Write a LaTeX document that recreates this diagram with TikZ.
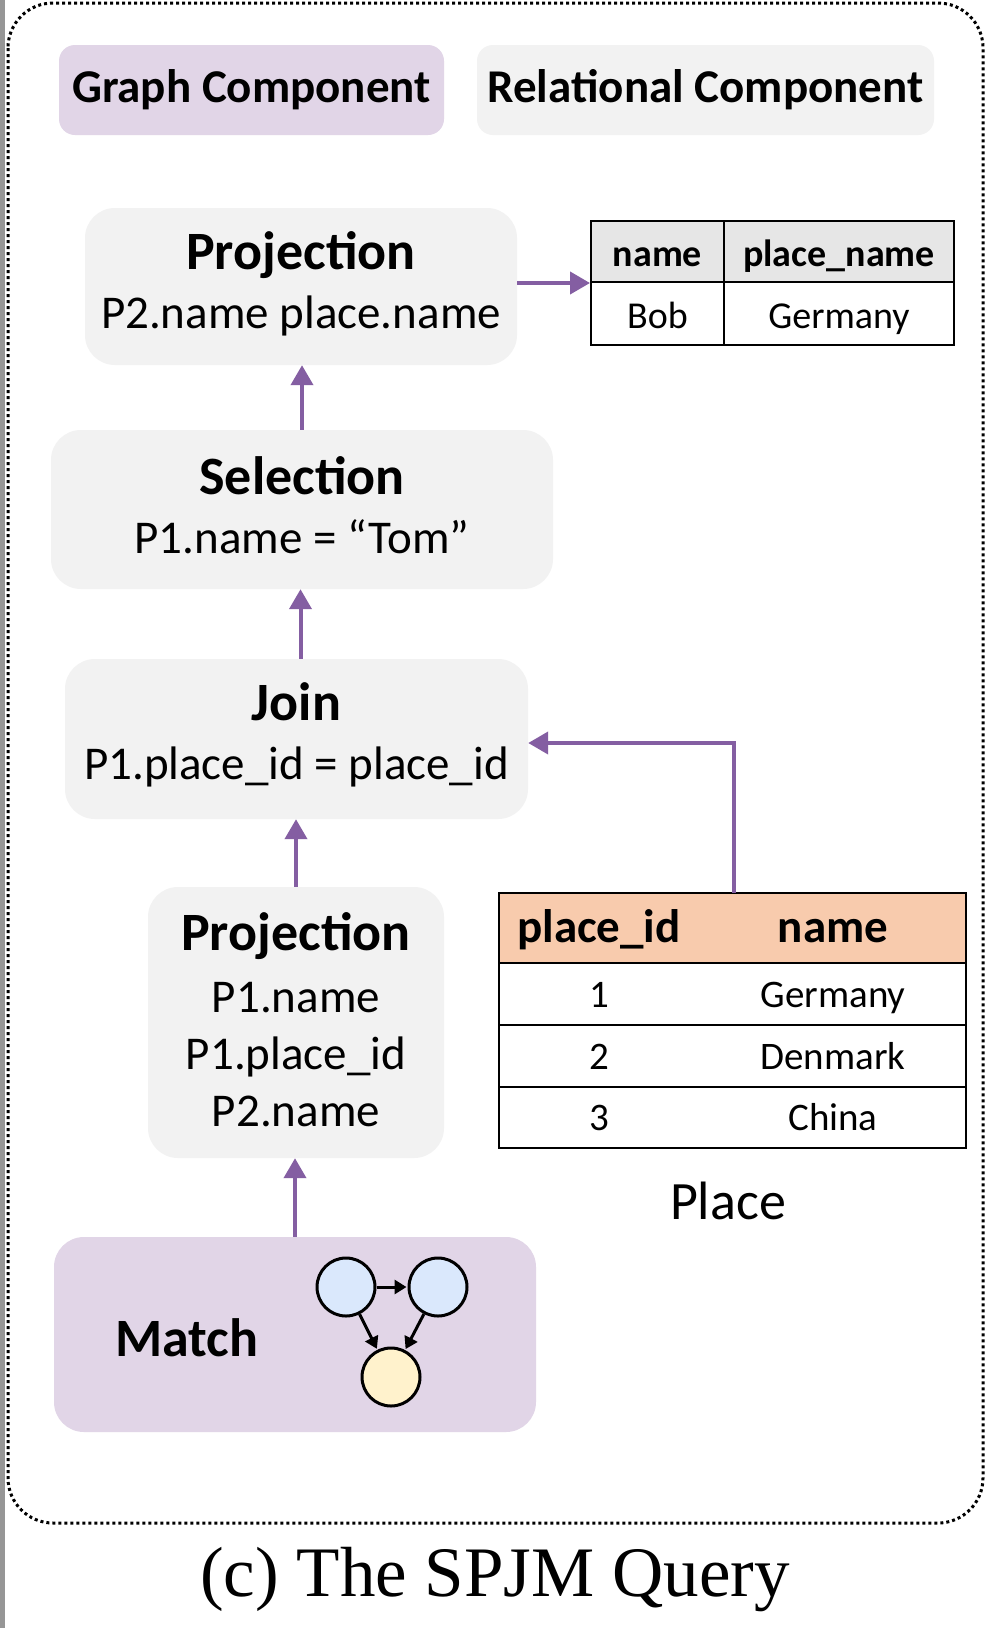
\documentclass[tikz,border=0pt]{standalone}
\usepackage{fontspec}
\setmainfont{Carlito}
\newfontfamily\capfont{Liberation Serif}
\usetikzlibrary{arrows.meta}
\definecolor{gpurple}{RGB}{225,213,231}
\definecolor{rgray}{RGB}{242,242,242}
\definecolor{arr}{RGB}{132,94,162}
\definecolor{peach}{RGB}{248,203,173}
\definecolor{hgray}{RGB}{230,230,230}
\definecolor{nblue}{RGB}{218,232,252}
\definecolor{nyellow}{RGB}{255,242,204}
\definecolor{stripgray}{RGB}{150,150,150}
\begin{document}
\begin{tikzpicture}[x=1pt,y=-1pt,
  compbox/.style={rounded corners=16pt, inner sep=0pt, minimum height=90pt, font=\fontsize{47}{56}\selectfont\bfseries},
  opbox/.style={fill=rgray, rounded corners=30pt, inner sep=0pt},
  optext/.style={inner sep=0pt, align=center, font=\fontsize{47}{59}\selectfont},
  ttl/.style={font=\fontsize{54}{60}\selectfont\bfseries},
  flow/.style={draw=arr, line width=4pt, -{Triangle[width=22pt,length=20pt]}},
  cell/.style={draw=black, line width=2pt, inner sep=0pt, text height=34pt, text depth=4pt},
  ptext/.style={inner sep=0pt, text height=30pt, text depth=4pt, font=\fontsize{39}{46}\selectfont},
  phtext/.style={inner sep=0pt, text height=34pt, text depth=6pt, font=\fontsize{47}{54}\selectfont\bfseries},
  gnode/.style={circle, draw=black, line width=3pt, minimum size=58pt, inner sep=0pt},
  garr/.style={draw=black, line width=3pt, -{Triangle[width=14pt,length=12pt]}, shorten >=1pt}
]
\useasboundingbox (0,0) rectangle (986,1628);
\fill[white] (0,0) rectangle (986,1628);
\fill[stripgray] (0,0) rectangle (5,1628);
\draw[line width=3pt, dash pattern=on 3pt off 3pt, rounded corners=45pt] (8,3) rectangle (983,1523);

% component legend
\node[compbox, fill=gpurple, minimum width=385pt] (gc) at (251.5,90) {Graph Component};
\node[compbox, fill=rgray, minimum width=457pt] (rc) at (705.5,90) {Relational Component};

% operator boxes
\node[opbox, minimum width=432pt, minimum height=157pt] (projtop) at (301,286.5) {};
\node[optext] (projtopt) at ([yshift=3pt]projtop.center)
  {{\fontsize{54}{60}\selectfont\bfseries Projection}\\P2.name place.name};
\node[opbox, minimum width=502pt, minimum height=159pt] (sel) at (302,509.5) {};
\node[optext] (selt) at ([yshift=4pt]sel.center)
  {{\fontsize{54}{60}\selectfont\bfseries Selection}\\P1.name = “Tom”};
\node[opbox, minimum width=463pt, minimum height=160pt] (join) at (296.5,739) {};
\node[optext] (joint) at ([yshift=4pt]join.center)
  {{\fontsize{54}{60}\selectfont\bfseries Join}\\P1.place\_id = place\_id};
\node[opbox, minimum width=296pt, minimum height=271pt] (proj2) at (296,1022.5) {};
\node[optext, font=\fontsize{47}{57}\selectfont] (proj2t) at ([yshift=3pt]proj2.center)
  {{\fontsize{54}{60}\selectfont\bfseries Projection}\\[5pt]P1.name\\P1.place\_id\\P2.name};
\node[fill=gpurple, rounded corners=30pt, minimum width=482pt, minimum height=195pt] (match) at (295,1334.5) {};
\node[ttl] (matchlabel) at (187,1338) {Match};

% pattern graph
\node[gnode, fill=nblue] (c1) at (346,1287) {};
\node[gnode, fill=nblue] (c2) at (438,1287) {};
\node[gnode, fill=nyellow] (c3) at (391,1377) {};
\draw[garr] (c1) -- (c2);
\draw[garr] (c1) -- (c3);
\draw[garr] (c2) -- (c3);

% result table
\node[cell, fill=hgray, minimum width=133pt, minimum height=61pt, font=\fontsize{38}{44}\selectfont\bfseries] (r11) at (657.5,251.5) {name};
\node[cell, fill=hgray, minimum width=230pt, minimum height=61pt, font=\fontsize{38}{44}\selectfont\bfseries] (r12) at (839,251.5) {place\_name};
\node[cell, fill=white, minimum width=133pt, minimum height=63pt, font=\fontsize{38}{44}\selectfont] (r21) at (657.5,313.5) {Bob};
\node[cell, fill=white, minimum width=230pt, minimum height=63pt, font=\fontsize{38}{44}\selectfont] (r22) at (839,313.5) {Germany};

% Place table
\node[cell, fill=peach, minimum width=467pt, minimum height=70pt] (ph) at (732.5,928) {};
\node[cell, fill=white, minimum width=467pt, minimum height=62pt] (pr1) at (732.5,994) {};
\node[cell, fill=white, minimum width=467pt, minimum height=62pt] (pr2) at (732.5,1056) {};
\node[cell, fill=white, minimum width=467pt, minimum height=61pt] (pr3) at (732.5,1117.5) {};
\node[phtext] (ph1) at (599,928) {place\_id};
\node[phtext] (ph2) at (833,928) {name};
\node[ptext] (p11) at (599,994) {1};
\node[ptext] (p12) at (833,994) {Germany};
\node[ptext] (p21) at (599,1056) {2};
\node[ptext] (p22) at (833,1056) {Denmark};
\node[ptext] (p31) at (599,1117.5) {3};
\node[ptext] (p32) at (833,1117.5) {China};
\node[font=\fontsize{54}{60}\selectfont] (placelabel) at (728,1201) {Place};

% connectors
\draw[flow] (projtop.east |- r11.south west) -- (r11.south west);
\draw[flow] (sel.north) -- (sel.north |- projtop.south);
\draw[flow] ([xshift=4pt]join.north) -- ([xshift=4pt]join.north |- sel.south);
\draw[flow] (proj2.north) -- (proj2.north |- join.south);
\draw[flow] (match.north) -- (match.north |- proj2.south);
\coordinate (ptop) at (734,893);
\draw[flow] (ptop) |- ([yshift=-4pt]join.east);

% caption
\node[font=\capfont\fontsize{71}{80}\selectfont] (capt) at (495,1580) {(c) The SPJM Query};
\end{tikzpicture}
\end{document}
